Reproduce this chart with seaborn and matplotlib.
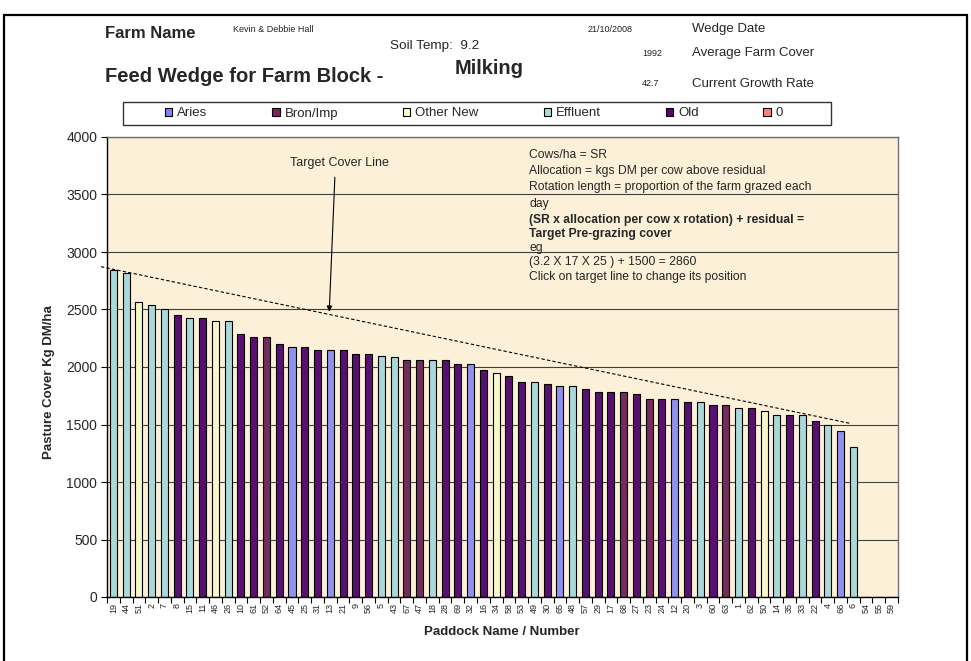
import matplotlib
matplotlib.use("Agg")
import matplotlib.pyplot as plt
from matplotlib.patches import Patch, Rectangle
import seaborn as sns
import pandas as pd

# Paddocks in wedge order, with pasture cover (kg DM/ha) and block group
paddocks = ["19", "44", "51", "2", "7", "8", "15", "11", "46", "26",
            "10", "61", "52", "64", "45", "25", "31", "13", "21", "9",
            "56", "5", "43", "67", "47", "18", "28", "69", "32", "16",
            "34", "58", "53", "49", "30", "65", "48", "57", "29", "17",
            "68", "27", "23", "24", "12", "20", "3", "60", "63", "1",
            "62", "50", "14", "35", "33", "22", "4", "66", "6", "54",
            "55", "59"]
cover = [2845, 2815, 2565, 2535, 2505, 2450, 2425, 2425, 2400, 2400,
         2285, 2260, 2260, 2200, 2175, 2175, 2145, 2145, 2145, 2115,
         2115, 2100, 2090, 2060, 2060, 2060, 2060, 2030, 2030, 1975,
         1950, 1920, 1867, 1867, 1852, 1838, 1838, 1809, 1783, 1783,
         1783, 1768, 1725, 1725, 1725, 1700, 1700, 1667, 1667, 1641,
         1641, 1615, 1586, 1586, 1586, 1530, 1500, 1446, 1307, 0,
         0, 0]
groups = ["Effluent", "Effluent", "Other New", "Effluent", "Effluent", "Old", "Effluent", "Old", "Other New", "Effluent",
          "Old", "Old", "Bron/Imp", "Old", "Aries", "Old", "Old", "Aries", "Old", "Old",
          "Old", "Effluent", "Effluent", "Bron/Imp", "Bron/Imp", "Effluent", "Old", "Old", "Aries", "Old",
          "Other New", "Old", "Old", "Effluent", "Old", "Aries", "Effluent", "Old", "Old", "Old",
          "Bron/Imp", "Old", "Bron/Imp", "Old", "Aries", "Old", "Effluent", "Old", "Bron/Imp", "Effluent",
          "Old", "Other New", "Effluent", "Old", "Effluent", "Old", "Effluent", "Aries", "Effluent", "0",
          "0", "0"]
group_names = ["Aries", "Bron/Imp", "Other New", "Effluent", "Old", "0"]
group_colors = ["#8080FF", "#802060", "#FFFFC0", "#A0E0E0", "#600080", "#FF8080"]

# target cover line end points (paddock position, cover)
target_x = [-0.97, 57.74]
target_y = [2872, 1510]
arrow_tip = (16.92, 2481)
arrow_tail = (17.36, 3650)

sns.set_theme(style="white")
plt.rcParams["font.family"] = ["Liberation Sans", "DejaVu Sans"]

W, H = 971, 661


def fx(px):
    return px / W


def fy(py):
    return 1 - py / H


fig = plt.figure(figsize=(W / 100, H / 100), dpi=100)
ax = fig.add_axes([fx(107), fy(597), 791 / W, 460 / H])
ax.set_facecolor("#FCF0D8")

df = pd.DataFrame({"paddock": paddocks, "cover": cover, "group": groups})
sns.barplot(data=df, x="paddock", y="cover", hue="group", order=paddocks,
            hue_order=group_names, palette=dict(zip(group_names, group_colors)),
            dodge=False, width=0.55, edgecolor="black", linewidth=0.8,
            errorbar=None, legend=False, ax=ax)

ax.plot(target_x, target_y, ls=(0, (3, 2)), color="black", lw=0.8, clip_on=False)
ax.annotate("", xy=arrow_tip, xytext=arrow_tail,
            arrowprops=dict(arrowstyle="-|>", color="black", lw=0.8,
                            mutation_scale=8, shrinkA=0, shrinkB=0))

ax.set_ylim(0, 4000)
ax.set_xlim(-0.5, len(paddocks) - 0.5)
ax.set_yticks(range(0, 4001, 500))
ax.yaxis.grid(True, color="#404040", lw=0.8)
ax.set_xticks([i - 0.5 for i in range(len(paddocks) + 1)], minor=True)
ax.tick_params(axis="x", which="major", length=0, labelsize=6.5, labelrotation=90, pad=4)
ax.tick_params(axis="x", which="minor", bottom=True, length=4, width=0.8, color="black")
ax.tick_params(axis="y", left=True, length=4, width=0.8, color="black", labelsize=10, pad=3)

for side in ["left", "bottom"]:
    ax.spines[side].set_color("black")
    ax.spines[side].set_linewidth(1)
for side in ["top", "right"]:
    ax.spines[side].set_color("#707070")
    ax.spines[side].set_linewidth(1)

ax.set_xlabel("Paddock Name / Number", fontsize=9.5, fontweight="bold")
ax.xaxis.set_label_coords(0.4994, -0.064)
ax.set_ylabel("Pasture Cover Kg DM/ha", fontsize=9.5, fontweight="bold")
ax.yaxis.set_label_coords(-0.066, 0.467)

# header
fig.text(fx(105), fy(33), "Farm Name", fontsize=12, fontweight="bold", va="center")
fig.text(fx(233), fy(29), "Kevin & Debbie Hall", fontsize=6.5, va="center", color="#222222")
fig.text(fx(390), fy(46), "Soil Temp:  9.2", fontsize=9.7, va="center")
fig.text(fx(105), fy(77), "Feed Wedge for Farm Block -", fontsize=14.5, fontweight="bold", va="center")
fig.text(fx(455), fy(68), "Milking", fontsize=14.5, fontweight="bold", va="center")
fig.text(fx(633), fy(29), "21/10/2008", fontsize=6.5, va="center", ha="right", color="#222222")
fig.text(fx(692), fy(29), "Wedge Date", fontsize=9.5, va="center")
fig.text(fx(662), fy(53), "1992", fontsize=6.5, va="center", ha="right", color="#222222")
fig.text(fx(692), fy(53), "Average Farm Cover", fontsize=9.5, va="center")
fig.text(fx(659), fy(84), "42.7", fontsize=6.5, va="center", ha="right", color="#222222")
fig.text(fx(692), fy(84), "Current Growth Rate", fontsize=9.5, va="center")

# legend
handles = [Patch(facecolor=c, edgecolor="black", lw=0.8, label=n)
           for n, c in zip(group_names, group_colors)]
fig.legend(handles=handles, loc="center", ncol=6, mode="expand", frameon=False,
           bbox_to_anchor=(fx(153), fy(125), (795 - 153) / W, 23 / H),
           fontsize=9.5, handlelength=0.55, handleheight=0.55, handletextpad=0.38)
fig.add_artist(Rectangle((fx(123), fy(125)), (831 - 123) / W, 23 / H,
                         transform=fig.transFigure, fill=False, ec="#333333", lw=1))

# explanation notes inside the plot
fig.text(fx(339.7), fy(163.3), "Target Cover Line", fontsize=9, ha="center", va="center")
notes = [
    (155, "Cows/ha = SR", "normal"),
    (170.7, "Allocation = kgs DM per cow above residual", "normal"),
    (186.7, "Rotation length = proportion of the farm grazed each", "normal"),
    (204, "day", "normal"),
    (220, "(SR x allocation per cow x rotation) + residual =", "bold"),
    (234.3, "Target Pre-grazing cover", "bold"),
    (248.3, "eg", "normal"),
    (261.7, "(3.2 X 17 X 25 ) + 1500 = 2860", "normal"),
    (276.7, "Click on target line to change its position", "normal"),
]
for y, txt, wt in notes:
    fig.text(fx(529), fy(y), txt, fontsize=8.7, fontweight=wt, va="center")

# page border
fig.add_artist(Rectangle((fx(4), fy(668)), 963 / W, 653 / H,
                         transform=fig.transFigure, fill=False, ec="black", lw=1.6))

fig.savefig("out.png", dpi=100, facecolor="white")
